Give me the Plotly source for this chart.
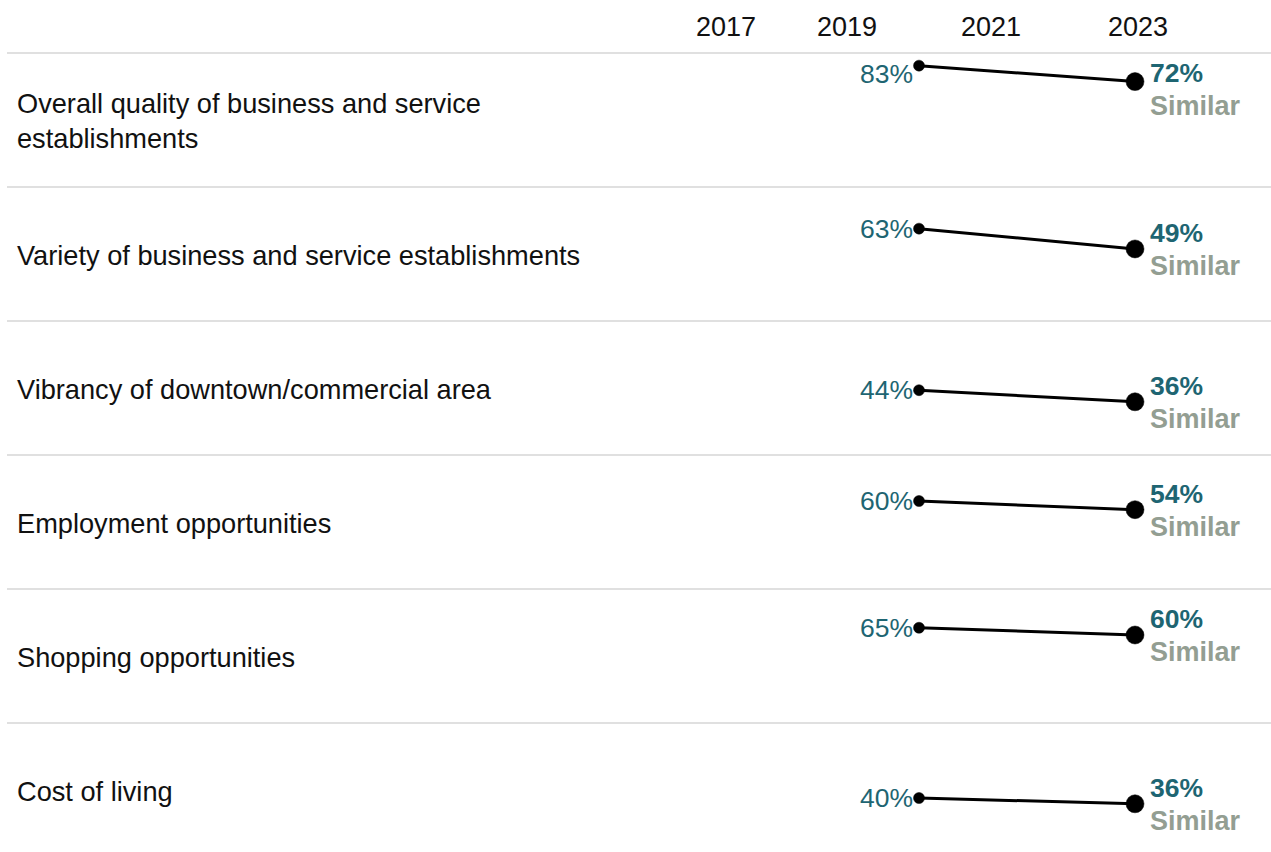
import plotly.graph_objects as go

# ---------------- data ----------------
categories = [
    "Overall quality of business and service<br>establishments",
    "Variety of business and service establishments",
    "Vibrancy of downtown/commercial area",
    "Employment opportunities",
    "Shopping opportunities",
    "Cost of living",
]
survey_years = [2020, 2023]
values_prev = [83, 63, 44, 60, 65, 40]   # earlier survey
values_2023 = [72, 49, 36, 54, 60, 36]   # latest survey
comparison = ["Similar", "Similar", "Similar", "Similar", "Similar", "Similar"]
header_years = [2017, 2019, 2021, 2023]

# ---------------- styling / layout ----------------
W, H = 1271, 852
PX = 1.45                 # pixels per percentage point
ROW_SPAN = 134 / PX       # each row band in value units
HEADER_PX = 53
FIRST_LINE = 100 - 12 / PX
Y_TOP = FIRST_LINE + HEADER_PX / PX
Y_BOT = Y_TOP - H / PX
X_LEFT = 2020 - 919 / 72
X_RIGHT = X_LEFT + W / 72

TEAL = "#1e6572"
SIM = "#939e92"
FONT = "Arial, Liberation Sans, sans-serif"
FS_CAT = 27.2
FS_VAL = 26.5
FS_HEAD = 27

fig = go.Figure()
annotations = []
shapes = []

for i, cat in enumerate(categories):
    off = i * ROW_SPAN
    row_top = FIRST_LINE - off
    y_prev = values_prev[i] - off
    y_new = values_2023[i] - off

    fig.add_trace(go.Scatter(
        x=survey_years, y=[y_prev, y_new],
        mode="lines+markers",
        line=dict(color="#000000", width=3),
        marker=dict(color="#000000", size=[11, 18], opacity=1,
                    line=dict(width=0.5, color="#000000")),
        hoverinfo="skip", showlegend=False,
    ))

    # separator line at top of row
    shapes.append(dict(type="line", xref="paper", yref="y",
                       x0=7 / W, x1=1, y0=row_top, y1=row_top,
                       line=dict(color="#d6d6d6", width=1.5)))

    # category label
    annotations.append(dict(
        x=17 / W, xref="paper", y=row_top - ROW_SPAN / 2, yref="y",
        text=cat, showarrow=False, xanchor="left", yanchor="middle",
        xshift=-2, yshift=-1,
        align="left", font=dict(family=FONT, size=FS_CAT, color="#111111"),
    ))

    # earlier value label
    lab_prev = min(y_prev, row_top - 21 / PX)
    annotations.append(dict(
        x=survey_years[0], y=lab_prev, xref="x", yref="y",
        text=f"{values_prev[i]}%", showarrow=False,
        xanchor="right", yanchor="middle", xshift=-4,
        font=dict(family=FONT, size=FS_VAL, color=TEAL),
    ))

    # latest value + comparison
    lab_new = min(y_new + 16 / PX, row_top - 20 / PX)
    annotations.append(dict(
        x=survey_years[1], y=lab_new, xref="x", yref="y",
        text=f"<b>{values_2023[i]}%</b>", showarrow=False,
        xanchor="left", yanchor="middle", xshift=13,
        font=dict(family=FONT, size=FS_VAL, color=TEAL),
    ))
    annotations.append(dict(
        x=survey_years[1], y=lab_new, xref="x", yref="y",
        text=f"<b>{comparison[i]}</b>", showarrow=False,
        xanchor="left", yanchor="middle", xshift=13, yshift=-33,
        font=dict(family=FONT, size=FS_VAL + 0.5, color=SIM),
    ))

# header years
for yr in header_years:
    annotations.append(dict(
        x=yr, xref="x", y=1 - 27 / H, yref="paper",
        text=str(yr), showarrow=False, xanchor="center", yanchor="middle",
        xshift=23 if yr == header_years[0] else (3 if yr == header_years[-1] else 0),
        font=dict(family=FONT, size=FS_HEAD, color="#111111"),
    ))

fig.update_layout(
    width=W, height=H,
    margin=dict(l=0, r=0, t=0, b=0),
    paper_bgcolor="white", plot_bgcolor="white",
    xaxis=dict(range=[X_LEFT, X_RIGHT], visible=False, fixedrange=True),
    yaxis=dict(range=[Y_BOT, Y_TOP], visible=False, fixedrange=True),
    annotations=annotations, shapes=shapes,
    showlegend=False,
)

fig.write_html("out.html", config={"displayModeBar": False})

# remove the default page margin so the figure sits at the window origin
with open("out.html", "r", encoding="utf-8") as f:
    html = f.read()
html = html.replace("<body>", '<body style="margin:0;padding:0;overflow:hidden">', 1)
with open("out.html", "w", encoding="utf-8") as f:
    f.write(html)
